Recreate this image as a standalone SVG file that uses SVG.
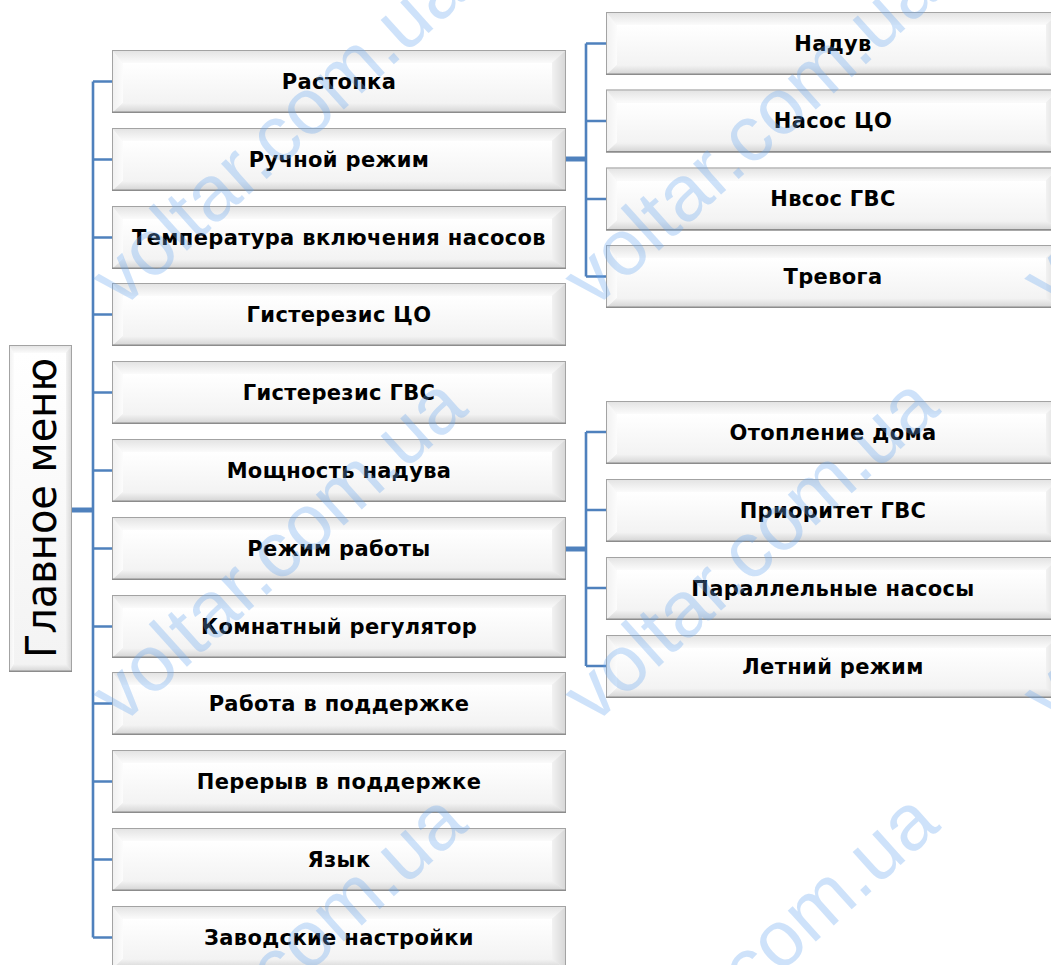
<svg xmlns="http://www.w3.org/2000/svg" xmlns:xlink="http://www.w3.org/1999/xlink" width="1051" height="965" viewBox="0 0 1051 965">
<style>
.lbl{font-family:"DejaVu Sans","Noto Sans",sans-serif;font-weight:bold;font-size:21px;letter-spacing:0.35px;fill:#000;text-anchor:middle}
.root{font-family:"DejaVu Sans","Noto Sans",sans-serif;font-size:42px;fill:#000;text-anchor:middle}
.conn{fill:none;stroke:#4f81bd;stroke-width:2.6}
.thick{fill:none;stroke:#4f81bd;stroke-width:5}
.wm{font-family:"Liberation Sans",Arial,sans-serif;font-size:79px;fill:#6aa8f0;opacity:0.32}
</style>
<defs>
<linearGradient id="gTop" x1="0" y1="0" x2="0" y2="1"><stop offset="0" stop-color="#e2e2e2"/><stop offset="1" stop-color="#fbfbfb"/></linearGradient>
<linearGradient id="gBot" x1="0" y1="0" x2="0" y2="1"><stop offset="0" stop-color="#f4f4f4"/><stop offset="1" stop-color="#d2d2d2"/></linearGradient>
<linearGradient id="gRight" x1="0" y1="0" x2="1" y2="0"><stop offset="0" stop-color="#f2f2f2"/><stop offset="1" stop-color="#d6d6d6"/></linearGradient>
<linearGradient id="gLeft" x1="0" y1="0" x2="1" y2="0"><stop offset="0" stop-color="#f0f0f0"/><stop offset="1" stop-color="#fcfcfc"/></linearGradient>
<linearGradient id="gFace" x1="0" y1="0" x2="0" y2="1"><stop offset="0" stop-color="#ffffff"/><stop offset="1" stop-color="#f3f3f3"/></linearGradient>
<g id="bev">
<rect x="0" y="0" width="454" height="63" fill="#eeeeee"/>
<polygon points="0,0 454,0 440,13 11,13" fill="url(#gTop)"/>
<polygon points="0,0 11,13 11,53 0,63" fill="url(#gLeft)"/>
<polygon points="454,0 440,13 440,53 454,63" fill="url(#gRight)"/>
<polygon points="0,63 11,53 440,53 454,63" fill="url(#gBot)"/>
<rect x="11" y="13" width="429" height="40" fill="url(#gFace)"/>
<rect x="0.5" y="0.5" width="453" height="62" fill="none" stroke="#a3a3a3" stroke-width="1"/>
<line x1="0" y1="62.2" x2="454" y2="62.2" stroke="#8c8c8c" stroke-width="1.6"/>
</g>
</defs>
<rect width="1051" height="965" fill="#ffffff"/>

<g id="connectors">
<path class="thick" d="M72 510H93"/>
<path class="conn" d="M93 81.5V937.5"/>
<path class="conn" d="M93 81.5H112M93 159.5H112M93 237.5H112M93 314.5H112M93 392.5H112M93 470.5H112M93 548.5H112M93 626.5H112M93 703.5H112M93 781.5H112M93 859.5H112M93 937.5H112"/>
<path class="thick" d="M566 159H586"/>
<path class="conn" d="M586 43.5V276.5M586 43.5H606M586 121H606M586 199H606M586 276.5H606"/>
<path class="thick" d="M566 549H586"/>
<path class="conn" d="M586 432V666M586 432H606M586 510H606M586 588H606M586 666H606"/>
</g>

<g id="root">
<rect x="9" y="345" width="63" height="327" fill="#eeeeee"/>
<polygon points="9,345 72,345 66,353 14,353" fill="url(#gTop)"/>
<polygon points="9,345 14,353 14,664 9,672" fill="url(#gLeft)"/>
<polygon points="72,345 66,353 66,664 72,672" fill="url(#gRight)"/>
<polygon points="9,672 14,664 66,664 72,672" fill="url(#gBot)"/>
<rect x="14" y="353" width="52" height="311" fill="url(#gFace)"/>
<rect x="9.5" y="345.5" width="62" height="326" fill="none" stroke="#a3a3a3" stroke-width="1"/>
<line x1="9" y1="671.2" x2="72" y2="671.2" stroke="#8c8c8c" stroke-width="1.6"/>
<text class="root" x="41" y="523" transform="rotate(-90 41 508)" textLength="300" lengthAdjust="spacingAndGlyphs">Главное меню</text>
</g>

<g id="n1"><use xlink:href="#bev" x="112" y="50"/><text class="lbl" x="339" y="88.5">Растопка</text></g>
<g id="n2"><use xlink:href="#bev" x="112" y="128"/><text class="lbl" x="339" y="166.5">Ручной режим</text></g>
<g id="n3"><use xlink:href="#bev" x="112" y="206"/><text class="lbl" x="339" y="244.5">Температура включения насосов</text></g>
<g id="n4"><use xlink:href="#bev" x="112" y="283"/><text class="lbl" x="339" y="321.5">Гистерезис ЦО</text></g>
<g id="n5"><use xlink:href="#bev" x="112" y="361"/><text class="lbl" x="339" y="399.5">Гистерезис ГВС</text></g>
<g id="n6"><use xlink:href="#bev" x="112" y="439"/><text class="lbl" x="339" y="477.5">Мощность надува</text></g>
<g id="n7"><use xlink:href="#bev" x="112" y="517"/><text class="lbl" x="339" y="555.5">Режим работы</text></g>
<g id="n8"><use xlink:href="#bev" x="112" y="595"/><text class="lbl" x="339" y="633.5">Комнатный регулятор</text></g>
<g id="n9"><use xlink:href="#bev" x="112" y="672"/><text class="lbl" x="339" y="710.5">Работа в поддержке</text></g>
<g id="n10"><use xlink:href="#bev" x="112" y="750"/><text class="lbl" x="339" y="788.5">Перерыв в поддержке</text></g>
<g id="n11"><use xlink:href="#bev" x="112" y="828"/><text class="lbl" x="339" y="866.5">Язык</text></g>
<g id="n12"><use xlink:href="#bev" x="112" y="906"/><text class="lbl" x="339" y="944.5">Заводские настройки</text></g>

<g id="r1"><use xlink:href="#bev" x="606" y="12"/><text class="lbl" x="833" y="50.5">Надув</text></g>
<g id="r2"><use xlink:href="#bev" x="606" y="89.5"/><text class="lbl" x="833" y="128">Насос ЦО</text></g>
<g id="r3"><use xlink:href="#bev" x="606" y="167.5"/><text class="lbl" x="833" y="206">Нвсос ГВС</text></g>
<g id="r4"><use xlink:href="#bev" x="606" y="245"/><text class="lbl" x="833" y="283.5">Тревога</text></g>

<g id="s1"><use xlink:href="#bev" x="606" y="401"/><text class="lbl" x="833" y="439.5">Отопление дома</text></g>
<g id="s2"><use xlink:href="#bev" x="606" y="479"/><text class="lbl" x="833" y="517.5">Приоритет ГВС</text></g>
<g id="s3"><use xlink:href="#bev" x="606" y="557"/><text class="lbl" x="833" y="595.5">Параллельные насосы</text></g>
<g id="s4"><use xlink:href="#bev" x="606" y="635"/><text class="lbl" x="833" y="673.5">Летний режим</text></g>

<g id="watermark">
<text class="wm" transform="translate(121 310) rotate(-42)">voltar.com.ua</text>
<text class="wm" transform="translate(593 310) rotate(-42)">voltar.com.ua</text>
<text class="wm" transform="translate(1052 310) rotate(-42)">voltar.com.ua</text>
<text class="wm" transform="translate(-357 310) rotate(-42)">voltar.com.ua</text>
<text class="wm" transform="translate(121 726) rotate(-42)">voltar.com.ua</text>
<text class="wm" transform="translate(593 726) rotate(-42)">voltar.com.ua</text>
<text class="wm" transform="translate(1052 726) rotate(-42)">voltar.com.ua</text>
<text class="wm" transform="translate(-354 726) rotate(-42)">voltar.com.ua</text>
<text class="wm" transform="translate(121 1142) rotate(-42)">voltar.com.ua</text>
<text class="wm" transform="translate(593 1142) rotate(-42)">voltar.com.ua</text>
<text class="wm" transform="translate(-354 1142) rotate(-42)">voltar.com.ua</text>
</g>
</svg>
